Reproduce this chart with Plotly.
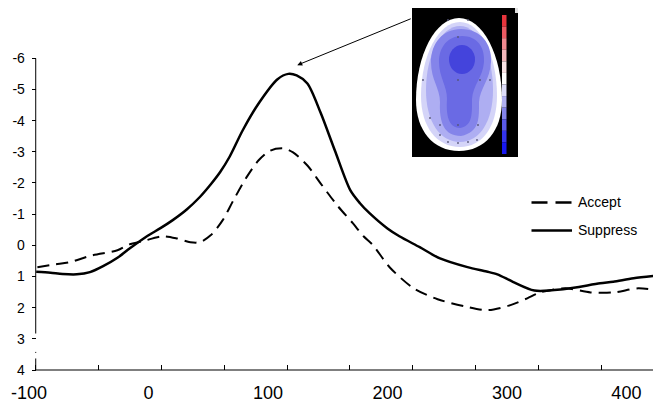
import plotly.graph_objects as go

# ---------------- data ----------------
time_suppress = [-94, -82, -72, -60, -49, -38, -26, -15, -1, 10, 20, 32, 43, 52, 60, 68, 79, 93,
                 108, 117, 124, 133, 144, 156, 169, 177, 185, 200, 210, 227, 244, 267, 283, 292,
                 305, 323, 347, 378, 389, 406, 429]
suppress_uv = [0.85, 0.88, 0.92, 0.93, 0.86, 0.67, 0.4, 0.08, -0.3, -0.55, -0.8, -1.15, -1.55,
               -1.95, -2.35, -2.85, -3.7, -4.6, -5.33, -5.5, -5.45, -5.19, -4.26, -3.04, -1.76, -1.35,
               -1.03, -0.54, -0.29, 0.06, 0.42, 0.7, 0.84, 0.93, 1.17, 1.45, 1.41, 1.22, 1.17, 1.06, 0.96]

time_accept = [-93, -78, -66, -47, -26, -16, -5, 12, 24, 35, 43, 52, 62, 71, 82, 92, 102, 113, 121,
               133, 144, 158, 171, 180, 188, 202, 222, 242, 265, 284, 303, 317, 328, 349, 370, 390,
               410, 429]
accept_uv = [0.7, 0.61, 0.54, 0.32, 0.16, -0.03, -0.13, -0.29, -0.22, -0.1, -0.1, -0.32, -0.8,
             -1.44, -2.18, -2.72, -3.04, -3.11, -2.98, -2.56, -1.99, -1.28, -0.71, -0.29, 0.0,
             0.71, 1.38, 1.73, 1.96, 2.08, 1.92, 1.7, 1.51, 1.38, 1.51, 1.51, 1.38, 1.47]

x_tick_values = [-100, 0, 100, 200, 300, 400]
x_tick_labels = ["-100", "0", "100", "200", "300", "400"]
y_tick_values = [-6, -5, -4, -3, -2, -1, 0, 1, 2, 3, 4]
y_tick_labels = ["-6", "-5", "-4", "-3", "-2", "-1", "0", "1", "2", "3", "4"]
series_names = ["Accept", "Suppress"]

# ---------------- layout helpers ----------------
OFF = 8                       # page body margin
W, H = 661 - OFF, 404 - OFF   # figure size so that it fills the window
FONT = "Liberation Sans, Arial, sans-serif"
AXIS_X0 = -94.4  # time at which the y axis is drawn
PX_PER_MS = 1.1947
PX_AT_ZERO = 148.5


def pxx(x):
    return (x - OFF) / W


def pxy(y):
    return 1 - (y - OFF) / H


def path(points_cmds):
    out = []
    for cmd, pts in points_cmds:
        coords = " ".join(f"{pxx(a):.5f},{pxy(b):.5f}" for a, b in pts)
        out.append(f"{cmd}{coords}")
    return " ".join(out) + " Z"


fig = go.Figure()
fig.add_trace(go.Scatter(x=time_accept, y=accept_uv, mode="lines", name=series_names[0],
                         line=dict(color="black", width=2, dash="12px,7px", shape="spline",
                                   smoothing=0.8),
                         showlegend=False))
fig.add_trace(go.Scatter(x=time_suppress, y=suppress_uv, mode="lines", name=series_names[1],
                         line=dict(color="black", width=2.5, shape="spline", smoothing=0.8),
                         showlegend=False))

shapes = []
# axis lines (y axis with a break between 3 and 4)
shapes.append(dict(type="line", xref="x", yref="y", x0=AXIS_X0, x1=AXIS_X0, y0=-6, y1=2.83,
                   line=dict(color="black", width=1)))
shapes.append(dict(type="line", xref="x", yref="y", x0=AXIS_X0, x1=AXIS_X0, y0=3.63, y1=4,
                   line=dict(color="black", width=1)))
shapes.append(dict(type="line", xref="x", yref="y", x0=AXIS_X0, x1=AXIS_X0, y0=3.42, y1=3.45,
                   line=dict(color="black", width=1)))
shapes.append(dict(type="line", xref="x", yref="paper", x0=AXIS_X0, x1=440, y0=pxy(370), y1=pxy(370),
                   line=dict(color="black", width=1.2)))

# ---------------- inset topographic map ----------------
shapes.append(dict(type="rect", xref="paper", yref="paper", x0=pxx(412), x1=pxx(518),
                   y0=pxy(157), y1=pxy(8), fillcolor="black", line=dict(width=0)))


def egg(cx, top, bot, left, right, widey):
    return path([
        ("M", [(cx, top)]),
        ("C", [(cx + (right - cx) * 0.55, top), (right, widey - (widey - top) * 0.55), (right, widey)]),
        ("C", [(right, widey + (bot - widey) * 0.6), (cx + (right - cx) * 0.6, bot), (cx, bot)]),
        ("C", [(cx - (cx - left) * 0.6, bot), (left, widey + (bot - widey) * 0.6), (left, widey)]),
        ("C", [(left, widey - (widey - top) * 0.55), (cx - (cx - left) * 0.55, top), (cx, top)]),
    ])


head_levels = [
    ("#ffffff", (459, 18, 151, 416, 502, 100)),
    ("#d4d4f8", (460, 22, 147, 421, 497, 96)),
    ("#aeaef2", (460, 26, 142, 426, 493, 90)),
]
for color, g in head_levels:
    shapes.append(dict(type="path", xref="paper", yref="paper", path=egg(*g),
                       fillcolor=color, line=dict(width=0)))

# keyhole shaped medium-blue region
keyhole = path([
    ("M", [(461, 29)]),
    ("C", [(481, 29), (492, 44), (491, 62)]),
    ("C", [(490, 80), (480, 88), (479, 102)]),
    ("C", [(479, 118), (480, 132), (461, 136)]),
    ("C", [(444, 136), (439, 122), (440, 102)]),
    ("C", [(440, 88), (431, 80), (431, 62)]),
    ("C", [(431, 43), (443, 29), (461, 29)]),
])
shapes.append(dict(type="path", xref="paper", yref="paper", path=keyhole,
                   fillcolor="#8484ea", line=dict(width=0)))
keyhole2 = path([
    ("M", [(462, 36)]),
    ("C", [(477, 36), (485, 47), (484, 62)]),
    ("C", [(483, 77), (473, 85), (472, 99)]),
    ("C", [(472, 113), (473, 126), (460, 128)]),
    ("C", [(448, 128), (446, 114), (447, 99)]),
    ("C", [(447, 86), (439, 77), (439, 62)]),
    ("C", [(439, 47), (448, 36), (462, 36)]),
])
shapes.append(dict(type="path", xref="paper", yref="paper", path=keyhole2,
                   fillcolor="#6a6ae4", line=dict(width=0)))
shapes.append(dict(type="circle", xref="paper", yref="paper", x0=pxx(449), x1=pxx(475),
                   y0=pxy(74), y1=pxy(45), fillcolor="#4444dc", line=dict(width=0)))

# electrode dots
electrodes = [(448, 20), (468, 20), (458, 37), (423, 80), (458, 80), (480, 80), (490, 80),
              (430, 118), (440, 125), (458, 125), (478, 125), (440, 135), (448, 142),
              (458, 143), (468, 142), (477, 140)]
for ex, ey in electrodes:
    shapes.append(dict(type="circle", xref="paper", yref="paper", x0=pxx(ex - 0.9), x1=pxx(ex + 0.9),
                       y0=pxy(ey + 0.9), y1=pxy(ey - 0.9), fillcolor="#555577", line=dict(width=0)))

# colour bar strip
bar_colors = ["#e8343c", "#ec5a62", "#f08a90", "#f4b8bc", "#fae4e6", "#ffffff", "#dcdcf8",
              "#b0b0f0", "#8484ea", "#5a5ae8", "#3434ec", "#1818f0"]
top_y, bot_y = 15, 154
step = (bot_y - top_y) / len(bar_colors)
for i, c in enumerate(bar_colors):
    shapes.append(dict(type="rect", xref="paper", yref="paper", x0=pxx(502), x1=pxx(506.5),
                       y0=pxy(top_y + (i + 1) * step), y1=pxy(top_y + i * step),
                       fillcolor=c, line=dict(width=0)))
shapes.append(dict(type="rect", xref="paper", yref="paper", x0=pxx(515), x1=pxx(518),
                   y0=pxy(13), y1=pxy(8), fillcolor="#e0e0e0", line=dict(width=0)))

# custom legend samples
shapes.append(dict(type="line", xref="paper", yref="paper", x0=pxx(531.5), x1=pxx(572),
                   y0=pxy(202.5), y1=pxy(202.5),
                   line=dict(color="black", width=2.5, dash="16px,8px")))
shapes.append(dict(type="line", xref="paper", yref="paper", x0=pxx(531.5), x1=pxx(572),
                   y0=pxy(230.5), y1=pxy(230.5), line=dict(color="black", width=2.5)))

annotations = [
    dict(xref="paper", yref="paper", x=pxx(576), y=pxy(201.5), text=series_names[0],
         showarrow=False, xanchor="left", yanchor="middle",
         font=dict(family=FONT, size=14, color="black")),
    dict(xref="paper", yref="paper", x=pxx(576), y=pxy(230), text=series_names[1],
         showarrow=False, xanchor="left", yanchor="middle",
         font=dict(family=FONT, size=14, color="black")),
    dict(xref="x", yref="y", x=124.5, y=-5.78, text="", showarrow=True,
         ax=115, ay=-47, arrowhead=2, arrowsize=1, arrowwidth=1, arrowcolor="black", standoff=0),
]

x_left = (OFF - PX_AT_ZERO) / PX_PER_MS
x_right = (661 - PX_AT_ZERO) / PX_PER_MS

fig.update_layout(
    width=W, height=H,
    margin=dict(l=0, r=0, t=0, b=0),
    paper_bgcolor="white", plot_bgcolor="white",
    font=dict(family=FONT, color="black"),
    shapes=shapes,
    annotations=annotations,
    xaxis=dict(
        domain=[0, 1], range=[x_left, x_right], anchor="y",
        showgrid=False, zeroline=False, showline=False,
        tickmode="array", tickvals=x_tick_values, ticktext=x_tick_labels,
        ticks="", ticklabelstandoff=10,
        tickfont=dict(family=FONT, size=18, color="black"),
        minor=dict(tickmode="linear", tick0=AXIS_X0, dtick=52.6, ticks="inside",
                   ticklen=5, tickwidth=1, tickcolor="black", showgrid=False),
        automargin=False,
    ),
    yaxis=dict(
        domain=[1 - (370 - OFF) / H, 1 - (58.3 - OFF) / H], range=[4, -6],
        anchor="free", position=(35.7 - OFF) / W,
        showgrid=False, zeroline=False, showline=False,
        tickmode="array", tickvals=y_tick_values, ticktext=y_tick_labels,
        ticks="outside", ticklen=4, tickwidth=1, tickcolor="black",
        ticklabelstandoff=4,
        tickfont=dict(family=FONT, size=14, color="black"),
        automargin=False,
    ),
)

fig.write_html("out.html")
